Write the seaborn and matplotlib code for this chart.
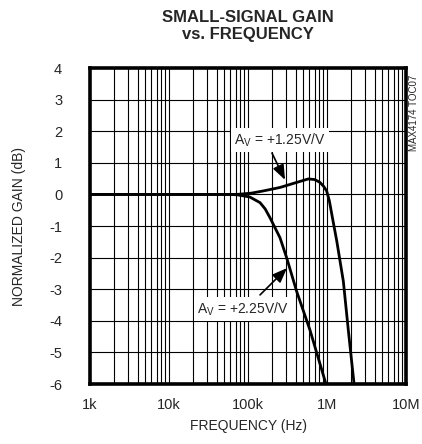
import matplotlib
matplotlib.use("Agg")
import matplotlib.pyplot as plt
import seaborn as sns
import pandas as pd
import numpy as np

# data
freq_a = [1e3, 1e4, 5e4, 7.2e4, 1.1e5, 1.56e5, 2.54e5, 4.13e5, 5.8e5, 7.0e5, 8.15e5, 9.1e5, 9.9e5, 1.07e6,
          1.15e6, 1.33e6, 1.61e6, 1.86e6, 2.2e6]
gain_a = [0, 0, 0, 0.0, 0.04, 0.11, 0.22, 0.38, 0.49, 0.47, 0.38, 0.25, 0.11, -0.2,
          -0.63, -1.48, -2.75, -4.29, -6.0]
freq_b = [1e3, 1e4, 5e4, 7.2e4, 1.05e5, 1.42e5, 1.65e5, 1.9e5, 2.54e5, 3.09e5, 4.13e5, 6.1e5, 9.7e5]
gain_b = [0, 0, 0, -0.01, -0.08, -0.26, -0.46, -0.74, -1.37, -2.01, -3.07, -4.3, -6.0]
label_a = "A$_\\mathregular{V}$ = +1.25V/V"
label_b = "A$_\\mathregular{V}$ = +2.25V/V"

df = pd.concat([
    pd.DataFrame({"freq": freq_a, "gain": gain_a, "curve": "a"}),
    pd.DataFrame({"freq": freq_b, "gain": gain_b, "curve": "b"}),
])

sns.set_style("white")
plt.rcParams['font.family'] = ['Liberation Sans Narrow', 'Liberation Sans', 'DejaVu Sans']
plt.rcParams['axes.unicode_minus'] = False

fig = plt.figure(figsize=(4.22, 4.44), dpi=100)
ax = fig.add_axes([0.2133, 0.1351, 0.7488, 0.7117])

# grid
for dec in [1e3, 1e4, 1e5, 1e6]:
    for m in range(2, 10):
        ax.axvline(dec * m, color="black", lw=0.8, zorder=1)
for d in [1e4, 1e5, 1e6]:
    ax.axvline(d, color="black", lw=0.8, zorder=1)
for g in range(-5, 4):
    ax.axhline(g, color="black", lw=0.8, zorder=1)

sns.lineplot(data=df, x="freq", y="gain", units="curve", estimator=None,
             color="black", lw=2.0, ax=ax, zorder=3)

ax.set_xscale("log")
ax.set_xlim(1e3, 1e7)
ax.set_ylim(-6, 4)
ax.set_xticks([1e3, 1e4, 1e5, 1e6, 1e7])
ax.set_xticklabels(["1k", "10k", "100k", "1M", "10M"])
ax.minorticks_off()
ax.set_yticks(range(-6, 5))
ax.tick_params(axis="both", length=0, labelsize=10.5)
ax.tick_params(axis="y", pad=20)
ax.tick_params(axis="x", pad=10)
ax.set_xlabel("FREQUENCY (Hz)", fontsize=10, labelpad=5)
ax.set_ylabel("NORMALIZED GAIN (dB)", fontsize=10, labelpad=17)
for s in ax.spines.values():
    s.set_linewidth(2.6)
    s.set_color("black")

fig.text(0.588, 0.978, "SMALL-SIGNAL GAIN\nvs. FREQUENCY", ha="center", va="top",
         fontsize=12, fontweight="bold", linespacing=1.2)

box = dict(facecolor="white", edgecolor="none", pad=2.5)
ax.text(2.54e5, 1.72, label_a, ha="center", va="center", fontsize=10, bbox=box, zorder=4)
ax.text(8.6e4, -3.63, label_b, ha="center", va="center", fontsize=10, bbox=box, zorder=4)
arrow = dict(arrowstyle="-|>,head_length=0.9,head_width=0.35", color="black", lw=1.2,
             shrinkA=0, shrinkB=0)
ax.annotate("", xy=(2.94e5, 0.46), xytext=(2.01e5, 1.31), arrowprops=arrow, zorder=5)
ax.annotate("", xy=(3.12e5, -2.33), xytext=(1.42e5, -3.18), arrowprops=arrow, zorder=5)

fig.text(0.98, 0.745, "MAX4174 TOC07", rotation=90, ha="center", va="center", fontsize=7)

plt.savefig("out.png", dpi=100)
